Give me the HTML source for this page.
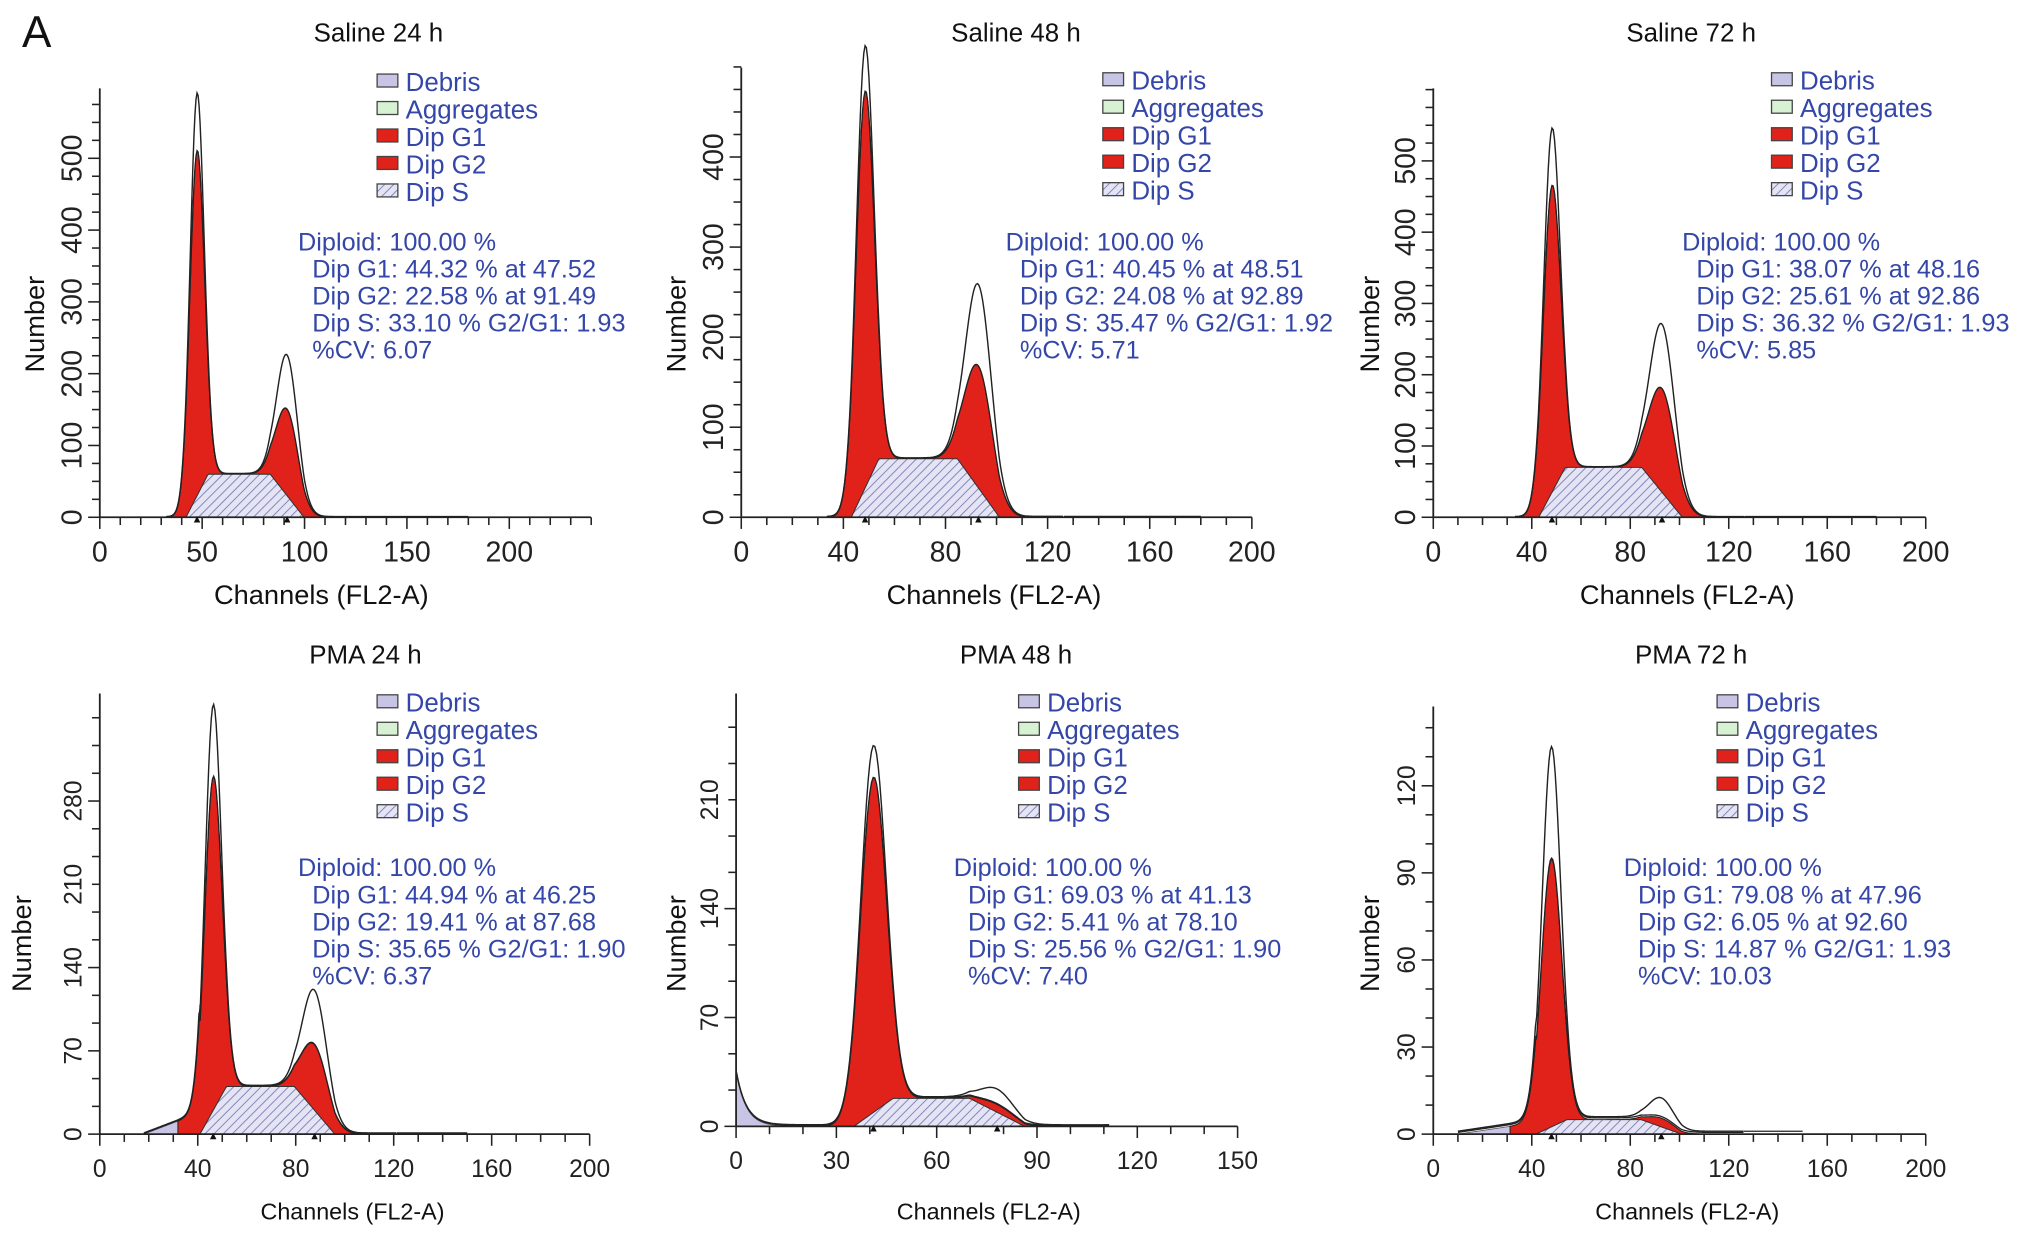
<!DOCTYPE html>
<html><head><meta charset="utf-8"><style>
html,body{margin:0;padding:0;background:#fff}
svg{display:block;font-family:"Liberation Sans",sans-serif}
</style></head><body>
<svg id="fig" width="2032" height="1238" viewBox="0 0 1568 955" xmlns="http://www.w3.org/2000/svg">
<defs>
<pattern id="hatch" patternUnits="userSpaceOnUse" width="5" height="5" patternTransform="rotate(45)">
<rect width="5" height="5" fill="#e4e4f4"/><line x1="0" y1="0" x2="0" y2="5" stroke="#7a7fb5" stroke-width="1.4"/></pattern>
</defs>
<text x="17" y="36" font-size="34" fill="#111">A</text>
</svg>
<script>
// panel titles
const titles = ["Saline 24 h","Saline 48 h","Saline 72 h","PMA 24 h","PMA 48 h","PMA 72 h"];
// G1 peak [mean, model height, sd, observed height]
const g1Params = [[47.5,480,3.6,560],[48.5,440,3.6,490],[48.2,430,3.6,510],[46.3,280,3.6,340],[41.1,215,3.9,235],[48,92,4.2,130]];
// G2 peak [mean, model height, sd, observed height]
const g2Params = [[91.5,120,5.5,195],[92.9,135,5.5,225],[92.9,145,5.5,235],[87.7,55,5.5,100],[78.1,5,5.5,14],[92.6,3,5.5,9]];
// S-phase plateau level
const sLevels = [60,65,70,40,18,5];
// Debris [height, decay, start channel, ramp(1)/decay(0)]
const debris = [[0,5,0,0],[0,5,0,0],[0,5,0,0],[18,10,18,1],[35,3,0,0],[4,10,10,1]];
// x tick labels
const xTicks = [[0,50,100,150,200],[0,40,80,120,160,200],[0,40,80,120,160,200],[0,40,80,120,160,200],[0,30,60,90,120,150],[0,40,80,120,160,200]];
// y tick labels
const yTicks = [[0,100,200,300,400,500],[0,100,200,300,400],[0,100,200,300,400,500],[0,70,140,210,280],[0,70,140,210],[0,30,60,90,120]];
// stats text
const stats = [
["Diploid: 100.00 %","Dip G1: 44.32 % at 47.52","Dip G2: 22.58 % at 91.49","Dip S: 33.10 % G2/G1: 1.93","%CV: 6.07"],
["Diploid: 100.00 %","Dip G1: 40.45 % at 48.51","Dip G2: 24.08 % at 92.89","Dip S: 35.47 % G2/G1: 1.92","%CV: 5.71"],
["Diploid: 100.00 %","Dip G1: 38.07 % at 48.16","Dip G2: 25.61 % at 92.86","Dip S: 36.32 % G2/G1: 1.93","%CV: 5.85"],
["Diploid: 100.00 %","Dip G1: 44.94 % at 46.25","Dip G2: 19.41 % at 87.68","Dip S: 35.65 % G2/G1: 1.90","%CV: 6.37"],
["Diploid: 100.00 %","Dip G1: 69.03 % at 41.13","Dip G2: 5.41 % at 78.10","Dip S: 25.56 % G2/G1: 1.90","%CV: 7.40"],
["Diploid: 100.00 %","Dip G1: 79.08 % at 47.96","Dip G2: 6.05 % at 92.60","Dip S: 14.87 % G2/G1: 1.93","%CV: 10.03"]];
const legendNames = ["Debris","Aggregates","Dip G1","Dip G2","Dip S"];

const layout = [
 {x0:77,xEnd:456,xMax:240,xPx:1.58,by:399,yTop:68,yPx:0.554,title:[292,25],leg:[291,63],st:[230,186],xl:[248,459],yl:[27,250],fs:22,tfs:21,tail:180},
 {x0:572,xEnd:966,xMax:200,xPx:1.97,by:399,yTop:52,yPx:0.695,title:[784,25],leg:[851,62],st:[776,186],xl:[767,459],yl:[522,250],fs:22,tfs:21,tail:180},
 {x0:1106,xEnd:1486,xMax:200,xPx:1.90,by:399,yTop:68,yPx:0.55,title:[1305,25],leg:[1367,62],st:[1298,186],xl:[1302,459],yl:[1057,250],fs:22,tfs:21,tail:180},
 {x0:77,xEnd:455,xMax:200,xPx:1.89,by:875,yTop:535,yPx:0.918,title:[282,505],leg:[291,542],st:[230,669],xl:[272,934],yl:[17,728],fs:19,tfs:18,tail:150},
 {x0:568,xEnd:955,xMax:150,xPx:2.58,by:869,yTop:535,yPx:1.2,title:[784,505],leg:[786,542],st:[736,669],xl:[763,934],yl:[522,728],fs:19,tfs:18,tail:110},
 {x0:1106,xEnd:1486,xMax:200,xPx:1.90,by:875,yTop:545,yPx:2.24,title:[1305,505],leg:[1325,542],st:[1253,669],xl:[1302,934],yl:[1057,728],fs:19,tfs:18,tail:150}];

const svg = document.getElementById('fig');
const NS = "http://www.w3.org/2000/svg";
function mk(tag, attrs, parent){const e=document.createElementNS(NS,tag);for(const k in attrs)e.setAttribute(k,attrs[k]);(parent||svg).appendChild(e);return e;}
function gauss(x,m,h,s){return h*Math.exp(-0.5*((x-m)/s)**2);}
function clip(v){return Math.max(0,Math.min(1,v));}

for(let p=0;p<6;p++){
 const L=layout[p];
 const sx=v=>L.x0+v*L.xPx, sy=v=>L.by-v*L.yPx;
 const g=mk('g',{});
 
 
 const [m1,h1,s1,o1]=g1Params[p],[m2,h2,s2,o2]=g2Params[p],sl=sLevels[p],[dh,dd,ds,dr]=debris[p];
 const S=x=>sl*clip((x-(m1-1.5*s1))/(3*s1))*clip(((m2+1.5*s2)-x)/(3*s2));
 const G1=x=>gauss(x,m1,h1,s1), G2=x=>gauss(x,m2,h2,s2);
 const dEnd=m1-1.5*s1;
 const D=x=>{if(x<ds||x>dEnd)return 0; return dr?dh*(x-ds)/(dEnd-ds):dh*Math.exp(-(x-ds)/dd);};
 const env=x=>S(x)+G1(x)+G2(x)+D(x);
 const obs=x=>env(x)+gauss(x,m1,o1-h1,s1*0.75)+gauss(x,m2,o2-h2,s2*0.85);
 const step=0.5, xs=[]; for(let x=0;x<=L.xMax;x+=step)xs.push(x);
 if(dh>0){let d='M'+sx(ds)+','+sy(0);xs.forEach(x=>{if(x>=ds&&x<=dEnd)d+=' L'+sx(x)+','+sy(D(x));});d+=' L'+sx(dEnd)+','+sy(0)+'Z';
  const a=mk('path',{d:d,fill:'#c8c4e6',stroke:'#555','stroke-width':0.6},g);}
 let d='M'+sx(m1-4*s1)+','+sy(0);for(let x=m1-4*s1;x<=m1+4*s1;x+=0.25)d+=' L'+sx(x)+','+sy(G1(x)+S(x)+D(x));d+=' L'+sx(m1+4*s1)+','+sy(0)+'Z';
 let a=mk('path',{d:d,fill:'#e0221b',stroke:'#222','stroke-width':0.8},g);
 d='M'+sx(m2-4*s2)+','+sy(0);for(let x=m2-4*s2;x<=m2+4*s2;x+=0.25)d+=' L'+sx(x)+','+sy(G2(x)+S(x));d+=' L'+sx(m2+4*s2)+','+sy(0)+'Z';
 a=mk('path',{d:d,fill:'#e0221b',stroke:'#222','stroke-width':0.8},g);
 d='M'+sx(m1-1.5*s1)+','+sy(0);for(let x=m1-1.5*s1;x<=m2+1.5*s2;x+=0.5)d+=' L'+sx(x)+','+sy(S(x));d+=' L'+sx(m2+1.5*s2)+','+sy(0)+'Z';
 a=mk('path',{d:d,fill:'url(#hatch)',stroke:'#333','stroke-width':0.8},g);
 const lo=dh>0?ds:Math.max(0,m1-15), hi=m2+5*s2+6;
 d='';for(let x=lo;x<=hi;x+=step)d+=(d?' L':'M')+sx(x)+','+sy(env(x)+0.6);
 a=mk('path',{d:d,fill:'none',stroke:'#222','stroke-width':1},g);
 d='';for(let x=lo;x<=hi;x+=step)d+=(d?' L':'M')+sx(x)+','+sy(obs(x)+1);
 a=mk('path',{d:d,fill:'none',stroke:'#222','stroke-width':1.1},g);
 a=mk('line',{x1:sx(hi),y1:sy(1),x2:sx(L.tail),y2:sy(1),stroke:'#222','stroke-width':1},g);
 a=mk('line',{x1:L.x0,y1:L.by,x2:L.xEnd,y2:L.by,stroke:'#222','stroke-width':1.4},g);
 a=mk('line',{x1:L.x0,y1:L.by,x2:L.x0,y2:L.yTop,stroke:'#222','stroke-width':1.4},g);
 const xt=xTicks[p], xStep=(xt[1]-xt[0])/(xt[1]-xt[0]===30?3:(xt[1]-xt[0]===50?5:4));
 for(let v=0;sx(v)<=L.xEnd+0.5;v+=xStep){const major=xt.includes(v);mk('line',{x1:sx(v),y1:L.by,x2:sx(v),y2:L.by+(major?9:6),stroke:'#222','stroke-width':1.2},g);}
 xt.forEach(v=>{const t=mk('text',{x:sx(v),y:L.by+(p<3?34:33),'font-size':L.fs,'text-anchor':'middle',fill:'#222'},g);t.textContent=v;});
 const yt=yTicks[p], ys=(yt[1]-yt[0])/(yt[1]-yt[0]===100?4:3);
 for(let v=0;sy(v)>=L.yTop-0.5;v+=ys){const major=yt.includes(v);mk('line',{x1:L.x0,y1:sy(v),x2:L.x0-(major?9:6),y2:sy(v),stroke:'#222','stroke-width':1.2},g);}
 yt.forEach(v=>{const t=mk('text',{x:0,y:0,'font-size':L.fs,'text-anchor':'middle',fill:'#222',transform:'translate('+(L.x0-14)+','+sy(v)+') rotate(-90)'},g);t.textContent=v;});
 [m1,m2].forEach(m=>{mk('path',{d:'M'+(sx(m)-2.5)+','+(L.by+4)+' L'+(sx(m)+2.5)+','+(L.by+4)+' L'+sx(m)+','+(L.by-1)+'Z',fill:'#111'},g);});
 let t=mk('text',{x:L.title[0],y:L.title[1]+7,'font-size':20,'text-anchor':'middle',fill:'#111'},g);t.textContent=titles[p];
 t=mk('text',{x:L.xl[0],y:L.xl[1]+7,'font-size':L.tfs,'text-anchor':'middle',fill:'#111'},g);t.textContent='Channels (FL2-A)';
 t=mk('text',{x:0,y:0,'font-size':21,'text-anchor':'middle',fill:'#111',transform:'translate('+(L.yl[0]+7)+','+L.yl[1]+') rotate(-90)'},g);t.textContent='Number';
 const lf=['#c8c4e6','#d6f2d2','#e0221b','#e0221b','url(#hatch)'];
 legendNames.forEach((n,i)=>{const y=L.leg[1]+i*21.2;
  const r=mk('rect',{x:L.leg[0],y:y-6,width:16,height:10,fill:lf[i],stroke:'#444','stroke-width':1},g);
  const tt=mk('text',{x:L.leg[0]+22,y:y+7,'font-size':20,fill:'#3447a8'},g);tt.textContent=n;});
 stats[p].forEach((s,i)=>{const tt=mk('text',{x:L.st[0]+(i?11:0),y:L.st[1]+7+i*20.9,'font-size':19.5,fill:'#3447a8'},g);tt.textContent=s;});
}
</script>
</body></html>
